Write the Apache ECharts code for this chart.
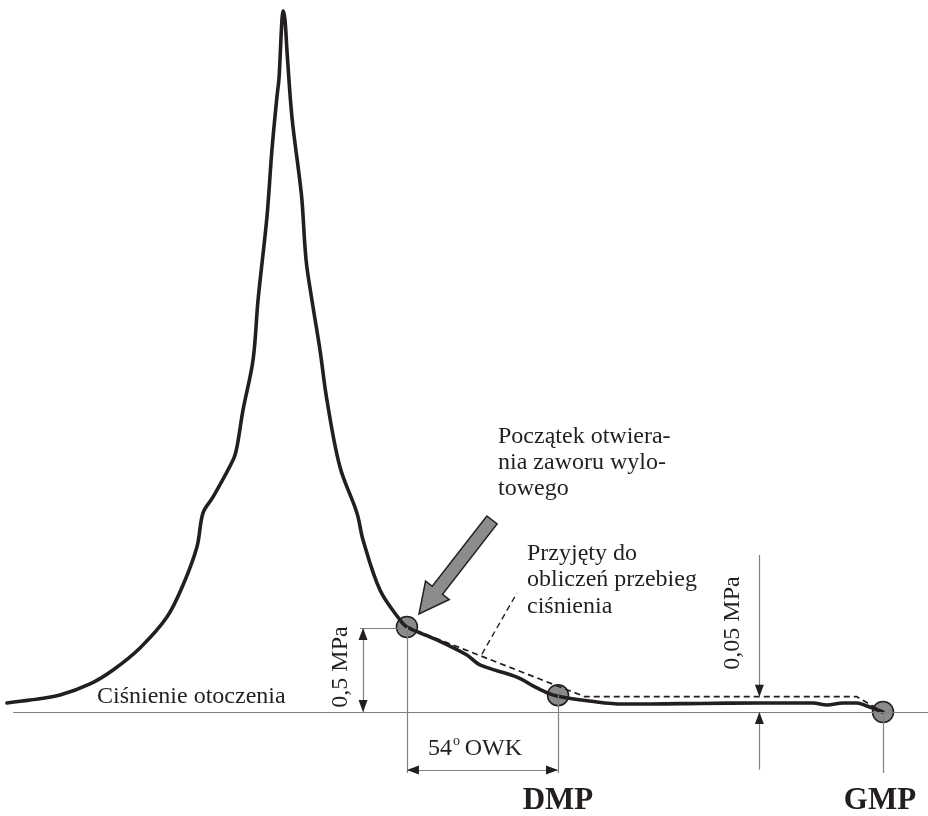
<!DOCTYPE html>
<html lang="pl">
<head>
    <meta charset="utf-8">
    <title>Przebieg ciśnienia</title>
    <script src="https://cdn.jsdelivr.net/npm/echarts@6/dist/echarts.min.js"></script>
    <style>
        html, body { margin: 0; padding: 0; background: #fff; }
        #main { width: 928px; height: 816px; }
    </style>
</head>
<body>
    <div id="main"></div>
<script>
    // kąt obrotu wału [deg] i ciśnienie ponad otoczenie [MPa]
    var angle = [-18.0, -9.7, 1.1, 11.9, 20.2, 29.9, 39.6, 45.4, 50.4, 52.6, 56.2, 63.4, 64.8, 67.0, 70.6,
        72.4, 75.6, 77.4, 79.2, 79.9, 80.3, 81.0, 81.4, 82.1, 82.8, 84.6, 87.1, 88.2, 89.7, 91.8, 94.7,
        97.2, 101.9, 108.0, 110.2, 116.3, 123.5, 126.0, 136.8, 147.6, 152.3, 165.6, 172.8, 180.0, 194.4,
        203.8, 213.5, 231.5, 253.1, 272.2, 277.2, 283.0, 288.0, 291.6, 297.4];
    var pressure = [0.054, 0.071, 0.101, 0.167, 0.250, 0.381, 0.565, 0.756, 0.982, 1.185, 1.280, 1.500, 1.577, 1.798, 2.095,
        2.452, 2.946, 3.345, 3.661, 3.762, 3.881, 4.119, 4.173, 4.119, 3.940, 3.542, 3.208, 3.048, 2.690, 2.452, 2.155,
        1.857, 1.458, 1.185, 1.024, 0.726, 0.548, 0.506, 0.429, 0.339, 0.280, 0.208, 0.143, 0.095, 0.060,
        0.048, 0.048, 0.051, 0.054, 0.054, 0.042, 0.054, 0.054, 0.036, 0.000];

    // przyjęty do obliczeń przebieg (linia przerywana)
    var adoptedAngle = [126.0, 190.1, 288.0, 297.4];
    var adoptedPressure = [0.506, 0.091, 0.091, 0.000];

    // punkty charakterystyczne: początek otwarcia zaworu, DMP, GMP
    var pointAngle = [126.0, 180.4, 297.4];
    var pointPressure = [0.506, 0.100, 0.000];

    // wymiarowanie
    var valveAngle = 126.0, dmpAngle = 180.4, gmpAngle = 297.4;
    var dimBottom = -0.363;      // dolny koniec linii pomocniczych
    var owkLevel = -0.345;       // poziom strzałki 54 OWK
    var p05Angle = 110.2;        // strzałka 0,5 MPa
    var p005Angle = 252.9;       // strzałka 0,05 MPa
    var p005Level = 0.091;
    var ambientStart = -15.8, ambientEnd = 313.6;

    var ink = '#231f20';
    var gray = '#808080';

    var myChart = echarts.init(document.getElementById('main'));

    function seg(x1, y1, x2, y2) {
        return [{ coord: [x1, y1] }, { coord: [x2, y2] }];
    }

    var refLines = [
        seg(ambientStart, 0, ambientEnd, 0),
        seg(valveAngle, 0.506, valveAngle, dimBottom),
        seg(dmpAngle, 0.1, dmpAngle, dimBottom),
        seg(gmpAngle, 0, gmpAngle, dimBottom),
        seg(109.1, 0.5, valveAngle, 0.5),
        seg(p05Angle, 0.5, p05Angle, 0),
        seg(valveAngle, owkLevel, dmpAngle, owkLevel),
        seg(p005Angle, 0.935, p005Angle, p005Level),
        seg(p005Angle, 0, p005Angle, dimBottom + 0.02)
    ];

    // groty strzałek: [kąt, ciśnienie, kierunek]
    var arrowHeads = [
        [p05Angle, 0.5, 'up'], [p05Angle, 0, 'down'],
        [valveAngle, owkLevel, 'left'], [dmpAngle, owkLevel, 'right'],
        [p005Angle, p005Level, 'down'], [p005Angle, 0, 'up']
    ];
    var rot = { up: 0, down: 180, left: 90, right: -90 };
    var off = { up: [0, 6], down: [0, -6], left: [6, 0], right: [-6, 0] };

    // duża strzałka wskazująca początek otwierania zaworu
    function bigArrow(tip, tail) {
        var dx = tip[0] - tail[0], dy = tip[1] - tail[1];
        var len = Math.sqrt(dx * dx + dy * dy);
        var ux = dx / len, uy = dy / len, nx = -uy, ny = ux;
        var bx = tip[0] - 30 * ux, by = tip[1] - 30 * uy;
        return [
            tip,
            [bx + 15 * nx, by + 15 * ny],
            [bx + 6.5 * nx, by + 6.5 * ny],
            [tail[0] + 6.5 * nx, tail[1] + 6.5 * ny],
            [tail[0] - 6.5 * nx, tail[1] - 6.5 * ny],
            [bx - 6.5 * nx, by - 6.5 * ny],
            [bx - 15 * nx, by - 15 * ny]
        ];
    }

    var serif = '"Liberation Serif", "DejaVu Serif", serif';
    function txt(s, x, y, opt) {
        opt = opt || {};
        return {
            type: 'text', x: x, y: y, z: 20, rotation: opt.rotation || 0,
            style: {
                text: s, fill: ink, font: (opt.weight || 'normal') + ' ' + (opt.size || 24) + 'px ' + serif,
                align: opt.align || 'left', verticalAlign: 'middle'
            }
        };
    }

    var option = {
        animation: false,
        backgroundColor: '#fff',
        grid: { left: 0, right: 0, top: 0, bottom: 0 },
        xAxis: { type: 'value', min: -20.5, max: 313.6, show: false },
        yAxis: { type: 'value', min: -0.619, max: 4.238, show: false },
        series: [
            {
                type: 'line', name: 'pomocnicze', data: [], silent: true,
                markLine: {
                    silent: true, symbol: 'none', label: { show: false },
                    lineStyle: { color: gray, width: 1.2, type: 'solid' },
                    data: refLines
                }
            },
            {
                type: 'scatter', name: 'punkty',
                data: pointAngle.map(function (a, i) { return [a, pointPressure[i]]; }),
                symbol: 'circle', symbolSize: 21, z: 2,
                itemStyle: { color: '#8a8a8a', borderColor: ink, borderWidth: 1.5, opacity: 1 }
            },
            {
                type: 'line', name: 'przyjęty',
                data: adoptedAngle.map(function (a, i) { return [a, adoptedPressure[i]]; }),
                symbol: 'none', z: 3,
                lineStyle: { color: ink, width: 1.7, type: [6, 4] },
                markLine: {
                    silent: true, symbol: 'none', label: { show: false },
                    lineStyle: { color: ink, width: 1.4, type: [6, 4] },
                    data: [seg(153.0, 0.345, 165.6, 0.708)]
                }
            },
            {
                type: 'line', name: 'ciśnienie',
                data: angle.map(function (a, i) { return [a, pressure[i]]; }),
                symbol: 'none', smooth: 0.35, z: 4,
                lineStyle: { color: ink, width: 3.6, cap: 'round', join: 'round' }
            },
            {
                type: 'scatter', name: 'groty',
                data: arrowHeads.map(function (h) {
                    return { value: [h[0], h[1]], symbolRotate: rot[h[2]], symbolOffset: off[h[2]] };
                }),
                symbol: 'triangle', symbolSize: [9, 12], z: 5,
                itemStyle: { color: ink, opacity: 1 }
            }
        ],
        graphic: [
            {
                type: 'polygon', z: 20,
                shape: { points: bigArrow([419, 614], [492, 520]) },
                style: { fill: '#8c8c8c', stroke: ink, lineWidth: 1.5 }
            },
            txt('Ciśnienie otoczenia', 97, 697),
            txt('0,5 MPa', 341, 667, { rotation: Math.PI / 2, align: 'center' }),
            txt('0,05 MPa', 733, 623, { rotation: Math.PI / 2, align: 'center' }),
            txt('Początek otwiera-', 498, 437),
            txt('nia zaworu wylo-', 498, 463),
            txt('towego', 498, 489),
            txt('Przyjęty do', 527, 554),
            txt('obliczeń przebieg', 527, 580),
            txt('ciśnienia', 527, 607),
            txt('54', 428, 749),
            txt('o', 453, 741, { size: 14 }),
            txt('OWK', 522, 749, { align: 'right' }),
            txt('DMP', 558, 801, { size: 31, weight: 'bold', align: 'center' }),
            txt('GMP', 880, 801, { size: 31, weight: 'bold', align: 'center' })
        ]
    };
    myChart.setOption(option);
</script>
</body>
</html>
